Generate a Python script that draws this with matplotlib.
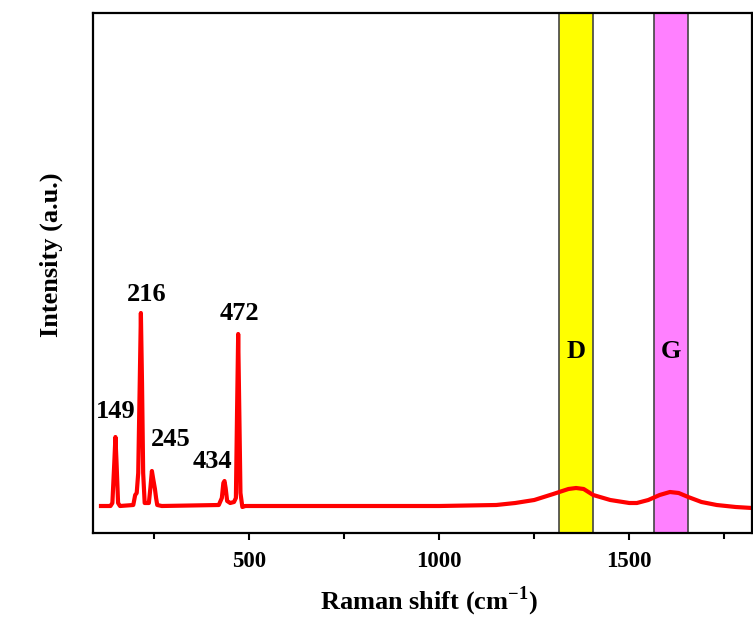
import numpy as np
import matplotlib
matplotlib.use('Agg')
import matplotlib.pyplot as plt

plt.rcParams['font.family'] = ['Liberation Serif', 'DejaVu Serif']
plt.rcParams['font.weight'] = 'bold'
plt.rcParams['mathtext.fontset'] = 'custom'
plt.rcParams['mathtext.rm'] = 'Liberation Serif:bold'
plt.rcParams['mathtext.bf'] = 'Liberation Serif:bold'

# spectrum (arbitrary intensity units)
shift = [110, 135, 140, 145, 148, 151, 155, 160, 195, 200, 204, 208, 212, 215,
         218, 221, 225, 236, 240, 244, 247, 252, 255, 258, 270, 420, 428, 432,
         435, 438, 442, 450, 460, 465, 468, 471, 474, 477, 482, 490, 800, 1000,
         1150, 1200, 1250, 1300, 1340, 1360, 1380, 1405, 1450, 1500, 1520, 1550,
         1580, 1607, 1630, 1655, 1690, 1730, 1780, 1823]
intensity = [27, 27, 30, 70, 96, 70, 30, 27, 28, 38, 40, 60, 150, 220,
             150, 60, 30, 30, 45, 62, 55, 44, 35, 28, 27, 28, 35, 50,
             52, 45, 32, 30, 31, 35, 120, 199, 120, 40, 26, 27, 27, 27,
             28, 30, 33, 39, 44, 45, 44, 38, 33, 30, 30, 33,
             38, 41, 40, 36, 31, 28, 26, 25]

peak_labels = ['149', '216', '245', '434', '472']
peak_x = [149, 229, 294, 404, 473]
peak_y = [115, 232, 87, 65, 213]

bands = [(1314, 1405, '#FFFF00', 'D'), (1564, 1655, '#FF80FF', 'G')]

fig = plt.figure(figsize=(7.53, 6.25), dpi=100)
ax = fig.add_axes([0.1235, 0.1472, 0.8752, 0.832])

for x0, x1, col, name in bands:
    ax.axvspan(x0, x1, facecolor=col, edgecolor='#444444', linewidth=1.2, zorder=1)
    ax.text((x0 + x1) / 2, 181, name, ha='center', va='center', fontsize=19,
            fontweight='bold', zorder=3)

ax.plot(shift, intensity, color='red', linewidth=3, zorder=2)

for lab, x, y in zip(peak_labels, peak_x, peak_y):
    ax.text(x, y, lab, ha='center', va='baseline', fontsize=19, fontweight='bold')

ax.set_xlim(89, 1823)
ax.set_ylim(0, 520)
ax.set_xticks([500, 1000, 1500])
ax.set_xticks([250, 750, 1250, 1750], minor=True)
ax.set_yticks([])
ax.tick_params(axis='x', which='both', direction='out', width=1.5, labelsize=16.5)
ax.tick_params(axis='x', which='major', length=5, pad=8)
ax.tick_params(axis='x', which='minor', length=4)
for s in ax.spines.values():
    s.set_linewidth(1.6)

ax.set_xlabel(r'Raman shift (cm$^{\mathbf{-1}}$)', fontsize=19, fontweight='bold')
ax.set_ylabel('Intensity (a.u.)', fontsize=19, fontweight='bold')
ax.xaxis.set_label_coords(0.51, -0.1)
ax.yaxis.set_label_coords(-0.045, 0.535)

plt.savefig('out.png', dpi=100)
plt.close()
